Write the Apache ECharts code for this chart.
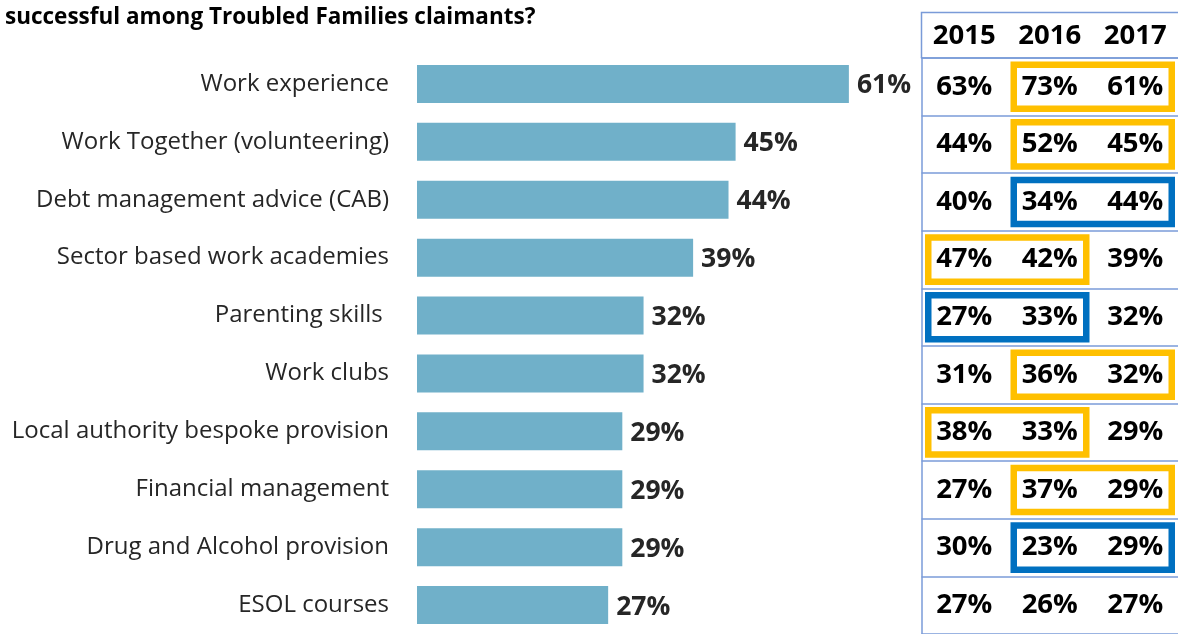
<!DOCTYPE html>
<html>
<head>
<meta charset="utf-8">
<script src="https://cdn.jsdelivr.net/npm/echarts@6/dist/echarts.min.js"></script>
<style>
  html, body { margin: 0; padding: 0; background: #ffffff; }
  #chart { width: 1178px; height: 634px; }
</style>
</head>
<body>
<div id="chart"></div>
<script>
// Support types, in the order shown top to bottom
const categories = [
  'Work experience',
  'Work Together (volunteering)',
  'Debt management advice (CAB)',
  'Sector based work academies',
  'Parenting skills ',
  'Work clubs',
  'Local authority bespoke provision',
  'Financial management',
  'Drug and Alcohol provision',
  'ESOL courses'
];

const years = ['2015', '2016', '2017'];

// Share of claimants for whom each support was successful, by year (%)
const values2015 = [63, 44, 40, 47, 27, 31, 38, 27, 30, 27];
const values2016 = [73, 52, 34, 42, 33, 36, 33, 37, 23, 26];
const values2017 = [61, 45, 44, 39, 32, 32, 29, 29, 29, 27];

// Year pairs outlined in the table: [from year, to year, row]
const fallBoxes = [
  ['2016', '2017', 0],
  ['2016', '2017', 1],
  ['2015', '2016', 3],
  ['2016', '2017', 5],
  ['2015', '2016', 6],
  ['2016', '2017', 7]
];
const riseBoxes = [
  ['2016', '2017', 2],
  ['2015', '2016', 4],
  ['2016', '2017', 8]
];

const titleText = 'successful among Troubled Families claimants?';

const BAR_COLOR = '#70b0c9';
const FALL_COLOR = '#ffc000';
const RISE_COLOR = '#0070c0';
const RULE_COLOR = '#7a9bd8';
const FONT = '"Open Sans", "Noto Sans", sans-serif';

// Table cells: [yearIndex, rowIndex, value]
const tableCells = [];
[values2015, values2016, values2017].forEach(function (arr, yi) {
  arr.forEach(function (v, ri) { tableCells.push([yi, ri, v]); });
});

function boxData(list) {
  return list.map(function (b) {
    return [years.indexOf(b[0]), years.indexOf(b[1]), b[2]];
  });
}

function renderBox(color) {
  return function (params, api) {
    const a = api.coord([api.value(0), api.value(2)]);
    const b = api.coord([api.value(1), api.value(2)]);
    const size = api.size([1, 1]);
    const lw = 6.5;
    const x0 = a[0] - size[0] / 2 + 3.5 + lw / 2;
    const x1 = b[0] + size[0] / 2 - 3 - lw / 2;
    const y0 = a[1] - size[1] / 2 + 3.5 + lw / 2;
    const y1 = a[1] + size[1] / 2 - 3.5 - lw / 2;
    return {
      type: 'rect',
      shape: { x: x0, y: y0, width: x1 - x0, height: y1 - y0 },
      style: { fill: 'none', stroke: color, lineWidth: lw }
    };
  };
}

const chart = echarts.init(document.getElementById('chart'), null, { renderer: 'canvas' });

chart.setOption({
  backgroundColor: '#ffffff',
  animation: false,
  title: {
    text: titleText,
    left: 0,
    top: 1,
    textStyle: { fontFamily: FONT, fontWeight: 'bold', fontSize: 22.5, color: '#000000' }
  },
  grid: [
    { left: 417, top: 55, width: 708, height: 579 },
    { left: 921.5, top: 58, width: 261, height: 583 }
  ],
  xAxis: [
    {
      gridIndex: 0, type: 'value', min: 0, max: 100,
      show: false
    },
    {
      gridIndex: 1, type: 'category', data: years, position: 'top',
      axisLine: { show: true, lineStyle: { color: RULE_COLOR, width: 1.5 } },
      axisTick: { show: false },
      axisLabel: {
        margin: 22, verticalAlign: 'middle',
        fontFamily: FONT, fontWeight: 'bold', fontSize: 27.5, color: '#000000'
      },
      splitLine: { show: false }
    }
  ],
  yAxis: [
    {
      gridIndex: 0, type: 'category', data: categories, inverse: true,
      axisLine: { show: false }, axisTick: { show: false },
      axisLabel: { margin: 28, fontFamily: FONT, fontSize: 24, color: '#262626' }
    },
    {
      gridIndex: 1, type: 'category', data: categories, inverse: true,
      axisLine: { show: true, lineStyle: { color: RULE_COLOR, width: 1.5 } },
      axisTick: { show: false },
      axisLabel: { show: false },
      splitLine: { show: true, lineStyle: { color: RULE_COLOR, width: 1.5 } }
    }
  ],
  graphic: [
    {
      type: 'polyline',
      shape: { points: [[921.5, 58], [921.5, 12.5], [1178, 12.5]] },
      style: { stroke: RULE_COLOR, lineWidth: 1.5, fill: 'none' },
      silent: true
    }
  ],
  series: [
    {
      type: 'bar', xAxisIndex: 0, yAxisIndex: 0,
      data: values2017,
      barWidth: 38,
      itemStyle: { color: BAR_COLOR },
      label: {
        show: true, position: 'right', distance: 8,
        formatter: '{c}%',
        fontFamily: FONT, fontWeight: 'bold', fontSize: 26.5, color: '#262626',
        offset: [0, 2]
      }
    },
    {
      type: 'custom', xAxisIndex: 1, yAxisIndex: 1,
      data: tableCells,
      encode: { x: 0, y: 1 },
      renderItem: function (params, api) {
        const p = api.coord([api.value(0), api.value(1)]);
        return {
          type: 'text',
          x: p[0], y: p[1],
          style: {
            text: api.value(2) + '%',
            textAlign: 'center', textVerticalAlign: 'middle',
            font: 'bold 27.5px ' + FONT,
            fill: '#000000'
          }
        };
      }
    },
    {
      type: 'custom', xAxisIndex: 1, yAxisIndex: 1,
      data: boxData(fallBoxes),
      encode: { x: [0, 1], y: 2 },
      renderItem: renderBox(FALL_COLOR)
    },
    {
      type: 'custom', xAxisIndex: 1, yAxisIndex: 1,
      data: boxData(riseBoxes),
      encode: { x: [0, 1], y: 2 },
      renderItem: renderBox(RISE_COLOR)
    }
  ]
});
</script>
</body>
</html>
